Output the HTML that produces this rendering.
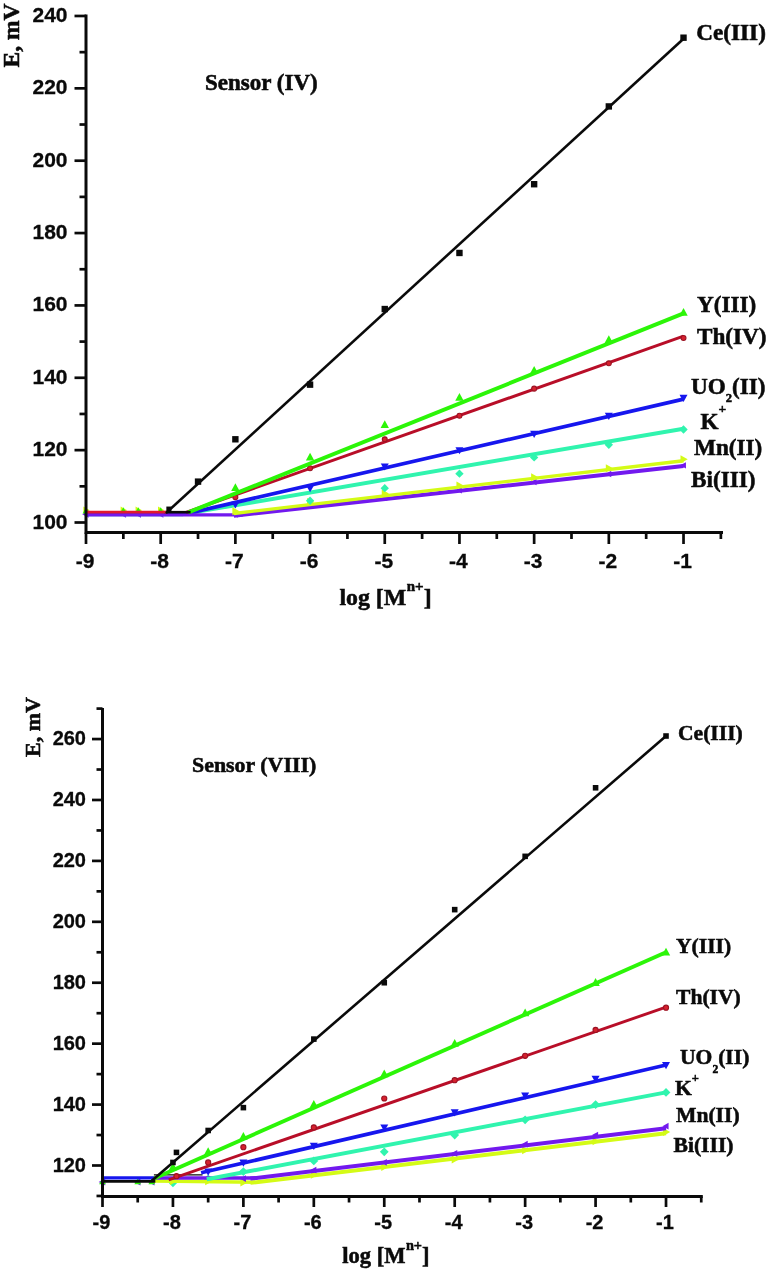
<!DOCTYPE html>
<html><head><meta charset="utf-8"><title>Sensor response</title>
<style>
html,body{margin:0;padding:0;background:#fff;}
body{width:768px;height:1271px;overflow:hidden;}
svg{display:block;filter:blur(0.55px);}
.tk{font-family:"Liberation Sans",sans-serif;font-weight:bold;fill:#0a0a0a;stroke:#0a0a0a;stroke-width:0.3px;}
.sf{font-family:"Liberation Serif",serif;font-weight:bold;fill:#0a0a0a;stroke:#0a0a0a;stroke-width:0.55px;}
</style></head><body>
<svg width="768" height="1271" viewBox="0 0 768 1271">
<rect width="768" height="1271" fill="#ffffff"/>
<g id="top">
<path d="M89.78 510.2 L83.3 506.6 L83.3 513.8Z" fill="#d4fb16"/>
<path d="M127.12 510.2 L120.64 506.6 L120.64 513.8Z" fill="#d4fb16"/>
<path d="M142.06 510.2 L135.58 506.6 L135.58 513.8Z" fill="#d4fb16"/>
<path d="M164.47 510.2 L157.99 506.6 L157.99 513.8Z" fill="#d4fb16"/>
<path d="M82.22 514.18 L88.7 510.58 L88.7 517.78Z" fill="#7219ee"/>
<path d="M119.56 514.18 L126.05 510.58 L126.05 517.78Z" fill="#7219ee"/>
<path d="M134.5 514.18 L140.98 510.58 L140.98 517.78Z" fill="#7219ee"/>
<path d="M156.91 514.18 L163.39 510.58 L163.39 517.78Z" fill="#7219ee"/>
<path d="M86 507.23 L89.36 513.44 L82.64 513.44Z" fill="#2cf508"/>
<path d="M123.34 507.23 L126.7 513.44 L119.98 513.44Z" fill="#2cf508"/>
<path d="M138.28 507.23 L141.64 513.44 L134.92 513.44Z" fill="#2cf508"/>
<path d="M160.69 507.23 L164.05 513.44 L157.33 513.44Z" fill="#2cf508"/>
<polyline points="86,514.18 183.1,514.18 683.52,428.79" fill="none" stroke="#30f4ae" stroke-width="3.9" stroke-linejoin="round"/>
<polyline points="86,514.18 184.59,514.18 683.52,399.13" fill="none" stroke="#1616ee" stroke-width="3.7" stroke-linejoin="round"/>
<path d="M235.38 508.61 L239.38 501.41 L231.38 501.41Z" fill="#1616ee"/>
<path d="M310.07 492.33 L314.07 485.13 L306.07 485.13Z" fill="#1616ee"/>
<path d="M384.76 470.62 L388.76 463.42 L380.76 463.42Z" fill="#1616ee"/>
<path d="M459.45 454.34 L463.45 447.14 L455.45 447.14Z" fill="#1616ee"/>
<path d="M534.14 438.06 L538.14 430.86 L530.14 430.86Z" fill="#1616ee"/>
<path d="M608.83 419.97 L612.83 412.77 L604.83 412.77Z" fill="#1616ee"/>
<path d="M683.52 401.88 L687.52 394.68 L679.52 394.68Z" fill="#1616ee"/>
<polyline points="86,514.9 242.85,514.9" fill="none" stroke="#7219ee" stroke-width="3.3" stroke-linejoin="round"/>
<polyline points="233.89,515.81 683.52,466.06" fill="none" stroke="#7219ee" stroke-width="3.9" stroke-linejoin="round"/>
<path d="M232.02 514.54 L237.78 511.34 L237.78 517.74Z" fill="#7219ee"/>
<path d="M306.71 505.86 L312.47 502.66 L312.47 509.06Z" fill="#7219ee"/>
<path d="M381.4 497.9 L387.16 494.7 L387.16 501.1Z" fill="#7219ee"/>
<path d="M456.09 490.3 L461.85 487.1 L461.85 493.5Z" fill="#7219ee"/>
<path d="M530.78 481.98 L536.54 478.78 L536.54 485.18Z" fill="#7219ee"/>
<path d="M605.47 474.02 L611.23 470.82 L611.23 477.22Z" fill="#7219ee"/>
<path d="M680.16 465.34 L685.92 462.14 L685.92 468.54Z" fill="#7219ee"/>
<polyline points="233.89,513.46 683.52,460.81" fill="none" stroke="#d4fb16" stroke-width="3.4" stroke-linejoin="round"/>
<path d="M239.58 511.28 L232.38 507.28 L232.38 515.28Z" fill="#d4fb16"/>
<path d="M314.27 501.88 L307.07 497.88 L307.07 505.88Z" fill="#d4fb16"/>
<path d="M388.96 493.56 L381.76 489.56 L381.76 497.56Z" fill="#d4fb16"/>
<path d="M463.65 485.6 L456.45 481.6 L456.45 489.6Z" fill="#d4fb16"/>
<path d="M538.34 477.27 L531.14 473.27 L531.14 481.27Z" fill="#d4fb16"/>
<path d="M613.03 468.23 L605.83 464.23 L605.83 472.23Z" fill="#d4fb16"/>
<path d="M687.72 459.19 L680.52 455.19 L680.52 463.19Z" fill="#d4fb16"/>
<path d="M310.07 496.61 L314.25 500.79 L310.07 504.97 L305.89 500.79Z" fill="#30f4ae"/>
<path d="M384.76 483.95 L388.94 488.13 L384.76 492.31 L380.58 488.13Z" fill="#30f4ae"/>
<path d="M459.45 469.48 L463.63 473.66 L459.45 477.84 L455.27 473.66Z" fill="#30f4ae"/>
<path d="M534.14 453.2 L538.32 457.38 L534.14 461.56 L529.96 457.38Z" fill="#30f4ae"/>
<path d="M608.83 440.53 L613.01 444.71 L608.83 448.89 L604.65 444.71Z" fill="#30f4ae"/>
<path d="M683.52 425.34 L687.7 429.52 L683.52 433.7 L679.34 429.52Z" fill="#30f4ae"/>
<polyline points="186.08,512.37 683.52,336.17" fill="none" stroke="#b80e28" stroke-width="3.0" stroke-linejoin="round"/>
<circle cx="235.38" cy="497.17" r="2.46" fill="#d6202e" stroke="#9a1222" stroke-width="1.1"/>
<circle cx="310.07" cy="468.23" r="2.46" fill="#d6202e" stroke="#9a1222" stroke-width="1.1"/>
<circle cx="384.76" cy="439.29" r="2.46" fill="#d6202e" stroke="#9a1222" stroke-width="1.1"/>
<circle cx="459.45" cy="415.77" r="2.46" fill="#d6202e" stroke="#9a1222" stroke-width="1.1"/>
<circle cx="534.14" cy="388.63" r="2.46" fill="#d6202e" stroke="#9a1222" stroke-width="1.1"/>
<circle cx="608.83" cy="363.31" r="2.46" fill="#d6202e" stroke="#9a1222" stroke-width="1.1"/>
<circle cx="683.52" cy="337.98" r="2.46" fill="#d6202e" stroke="#9a1222" stroke-width="1.1"/>
<polyline points="188.33,512.37 683.52,313.38" fill="none" stroke="#2cf508" stroke-width="3.9" stroke-linejoin="round"/>
<path d="M235.38 483.15 L239.58 490.92 L231.18 490.92Z" fill="#2cf508"/>
<path d="M310.07 452.76 L314.27 460.53 L305.87 460.53Z" fill="#2cf508"/>
<path d="M384.76 420.19 L388.96 427.96 L380.56 427.96Z" fill="#2cf508"/>
<path d="M459.45 393.06 L463.65 400.83 L455.25 400.83Z" fill="#2cf508"/>
<path d="M534.14 365.92 L538.34 373.69 L529.94 373.69Z" fill="#2cf508"/>
<path d="M608.83 335.17 L613.03 342.94 L604.63 342.94Z" fill="#2cf508"/>
<path d="M683.52 308.04 L687.72 315.81 L679.32 315.81Z" fill="#2cf508"/>
<polyline points="190.57,512.19 164.42,512.19" fill="none" stroke="#0a0a0a" stroke-width="2.6" stroke-linejoin="round"/>
<polyline points="86,512.19 166.67,512.19" fill="none" stroke="#e2182e" stroke-width="2.8" stroke-linejoin="round"/>
<rect x="166.35" y="506.55" width="5.12" height="5.12" fill="#0a0a0a"/>
<polyline points="165.92,513.09 683.52,38.77" fill="none" stroke="#0a0a0a" stroke-width="2.6" stroke-linejoin="round"/>
<rect x="194.84" y="478.42" width="6.4" height="6.4" fill="#0a0a0a"/>
<rect x="232.18" y="436.09" width="6.4" height="6.4" fill="#0a0a0a"/>
<rect x="306.87" y="381.45" width="6.4" height="6.4" fill="#0a0a0a"/>
<rect x="381.56" y="305.84" width="6.4" height="6.4" fill="#0a0a0a"/>
<rect x="456.25" y="249.76" width="6.4" height="6.4" fill="#0a0a0a"/>
<rect x="530.94" y="181.02" width="6.4" height="6.4" fill="#0a0a0a"/>
<rect x="605.63" y="103.23" width="6.4" height="6.4" fill="#0a0a0a"/>
<rect x="680.32" y="34.49" width="6.4" height="6.4" fill="#0a0a0a"/>
<path d="M86 16 V532.5 H721.5" fill="none" stroke="#0a0a0a" stroke-width="3.0" stroke-linecap="square"/>
<line x1="74.5" x2="86" y1="522.5" y2="522.5" stroke="#0a0a0a" stroke-width="2.7"/>
<text class="tk" font-size="21" x="67.5" y="528.5" text-anchor="end">100</text>
<line x1="79.5" x2="86" y1="486.32" y2="486.32" stroke="#0a0a0a" stroke-width="2.7"/>
<line x1="74.5" x2="86" y1="450.14" y2="450.14" stroke="#0a0a0a" stroke-width="2.7"/>
<text class="tk" font-size="21" x="67.5" y="456.14" text-anchor="end">120</text>
<line x1="79.5" x2="86" y1="413.96" y2="413.96" stroke="#0a0a0a" stroke-width="2.7"/>
<line x1="74.5" x2="86" y1="377.78" y2="377.78" stroke="#0a0a0a" stroke-width="2.7"/>
<text class="tk" font-size="21" x="67.5" y="383.78" text-anchor="end">140</text>
<line x1="79.5" x2="86" y1="341.6" y2="341.6" stroke="#0a0a0a" stroke-width="2.7"/>
<line x1="74.5" x2="86" y1="305.42" y2="305.42" stroke="#0a0a0a" stroke-width="2.7"/>
<text class="tk" font-size="21" x="67.5" y="311.42" text-anchor="end">160</text>
<line x1="79.5" x2="86" y1="269.24" y2="269.24" stroke="#0a0a0a" stroke-width="2.7"/>
<line x1="74.5" x2="86" y1="233.06" y2="233.06" stroke="#0a0a0a" stroke-width="2.7"/>
<text class="tk" font-size="21" x="67.5" y="239.06" text-anchor="end">180</text>
<line x1="79.5" x2="86" y1="196.88" y2="196.88" stroke="#0a0a0a" stroke-width="2.7"/>
<line x1="74.5" x2="86" y1="160.7" y2="160.7" stroke="#0a0a0a" stroke-width="2.7"/>
<text class="tk" font-size="21" x="67.5" y="166.7" text-anchor="end">200</text>
<line x1="79.5" x2="86" y1="124.52" y2="124.52" stroke="#0a0a0a" stroke-width="2.7"/>
<line x1="74.5" x2="86" y1="88.34" y2="88.34" stroke="#0a0a0a" stroke-width="2.7"/>
<text class="tk" font-size="21" x="67.5" y="94.34" text-anchor="end">220</text>
<line x1="79.5" x2="86" y1="52.16" y2="52.16" stroke="#0a0a0a" stroke-width="2.7"/>
<line x1="74.5" x2="86" y1="15.98" y2="15.98" stroke="#0a0a0a" stroke-width="2.7"/>
<text class="tk" font-size="21" x="67.5" y="21.98" text-anchor="end">240</text>
<line x1="86" x2="86" y1="532.5" y2="544" stroke="#0a0a0a" stroke-width="2.7"/>
<text class="tk" font-size="21" x="85" y="567.6" text-anchor="middle">-9</text>
<line x1="123.34" x2="123.34" y1="532.5" y2="539" stroke="#0a0a0a" stroke-width="2.7"/>
<line x1="160.69" x2="160.69" y1="532.5" y2="544" stroke="#0a0a0a" stroke-width="2.7"/>
<text class="tk" font-size="21" x="159.69" y="567.6" text-anchor="middle">-8</text>
<line x1="198.03" x2="198.03" y1="532.5" y2="539" stroke="#0a0a0a" stroke-width="2.7"/>
<line x1="235.38" x2="235.38" y1="532.5" y2="544" stroke="#0a0a0a" stroke-width="2.7"/>
<text class="tk" font-size="21" x="234.38" y="567.6" text-anchor="middle">-7</text>
<line x1="272.73" x2="272.73" y1="532.5" y2="539" stroke="#0a0a0a" stroke-width="2.7"/>
<line x1="310.07" x2="310.07" y1="532.5" y2="544" stroke="#0a0a0a" stroke-width="2.7"/>
<text class="tk" font-size="21" x="309.07" y="567.6" text-anchor="middle">-6</text>
<line x1="347.41" x2="347.41" y1="532.5" y2="539" stroke="#0a0a0a" stroke-width="2.7"/>
<line x1="384.76" x2="384.76" y1="532.5" y2="544" stroke="#0a0a0a" stroke-width="2.7"/>
<text class="tk" font-size="21" x="383.76" y="567.6" text-anchor="middle">-5</text>
<line x1="422.11" x2="422.11" y1="532.5" y2="539" stroke="#0a0a0a" stroke-width="2.7"/>
<line x1="459.45" x2="459.45" y1="532.5" y2="544" stroke="#0a0a0a" stroke-width="2.7"/>
<text class="tk" font-size="21" x="458.45" y="567.6" text-anchor="middle">-4</text>
<line x1="496.79" x2="496.79" y1="532.5" y2="539" stroke="#0a0a0a" stroke-width="2.7"/>
<line x1="534.14" x2="534.14" y1="532.5" y2="544" stroke="#0a0a0a" stroke-width="2.7"/>
<text class="tk" font-size="21" x="533.14" y="567.6" text-anchor="middle">-3</text>
<line x1="571.49" x2="571.49" y1="532.5" y2="539" stroke="#0a0a0a" stroke-width="2.7"/>
<line x1="608.83" x2="608.83" y1="532.5" y2="544" stroke="#0a0a0a" stroke-width="2.7"/>
<text class="tk" font-size="21" x="607.83" y="567.6" text-anchor="middle">-2</text>
<line x1="646.17" x2="646.17" y1="532.5" y2="539" stroke="#0a0a0a" stroke-width="2.7"/>
<line x1="683.52" x2="683.52" y1="532.5" y2="544" stroke="#0a0a0a" stroke-width="2.7"/>
<text class="tk" font-size="21" x="682.52" y="567.6" text-anchor="middle">-1</text>
<line x1="720.87" x2="720.87" y1="532.5" y2="539" stroke="#0a0a0a" stroke-width="2.7"/>
<text class="sf" x="205" y="90" font-size="23">Sensor (IV)</text>
<text class="sf" x="696.3" y="40.3" font-size="23.2">Ce(III)</text>
<text class="sf" x="697" y="312" font-size="23.2">Y(III)</text>
<text class="sf" x="697" y="343.5" font-size="23.2">Th(IV)</text>
<text class="sf" x="691" y="393.5" font-size="23.2">UO<tspan dx="0" dy="8.8" font-size="12.5">2</tspan><tspan dy="-8.8" font-size="1">&#8203;</tspan>(II)</text>
<text class="sf" x="700.5" y="428.7" font-size="23.2">K<tspan dx="0" dy="-15.5" font-size="13.5">+</tspan><tspan dy="15.5" font-size="1">&#8203;</tspan></text>
<text class="sf" x="694" y="455" font-size="23.2">Mn(II)</text>
<text class="sf" x="691" y="487" font-size="23.2">Bi(III)</text>
<text class="sf" x="339.5" y="604.5" font-size="23.8">log [M<tspan dx="0.5" dy="-13.5" font-size="15">n+</tspan><tspan dy="13.5" font-size="1">&#8203;</tspan>]</text>
<text class="sf" font-size="23.5" transform="translate(19,67.5) rotate(-90)">E, mV</text>
</g>
<g id="bottom">
<path d="M98.72 1181.95 L105.2 1178.35 L105.2 1185.55Z" fill="#7219ee"/>
<path d="M133.94 1181.95 L140.42 1178.35 L140.42 1185.55Z" fill="#7219ee"/>
<path d="M148.03 1181.95 L154.51 1178.35 L154.51 1185.55Z" fill="#7219ee"/>
<path d="M102.5 1177.95 L105.86 1184.16 L99.14 1184.16Z" fill="#2cf508"/>
<path d="M137.72 1177.95 L141.08 1184.16 L134.36 1184.16Z" fill="#2cf508"/>
<path d="M151.81 1177.95 L155.17 1184.16 L148.45 1184.16Z" fill="#2cf508"/>
<path d="M172.94 1178.46 L177.34 1182.86 L172.94 1187.26 L168.54 1182.86Z" fill="#30f4ae"/>
<path d="M208.16 1174.5 L212.56 1178.9 L208.16 1183.3 L203.76 1178.9Z" fill="#30f4ae"/>
<polyline points="153.92,1181.03 257.47,1182.25" fill="none" stroke="#d4fb16" stroke-width="3.4" stroke-linejoin="round"/>
<polyline points="250.42,1182.86 666.02,1133.36" fill="none" stroke="#d4fb16" stroke-width="4.0" stroke-linejoin="round"/>
<path d="M177.14 1181.34 L169.94 1177.34 L169.94 1185.34Z" fill="#d4fb16"/>
<path d="M212.36 1181.34 L205.16 1177.34 L205.16 1185.34Z" fill="#d4fb16"/>
<path d="M247.58 1182.56 L240.38 1178.56 L240.38 1186.56Z" fill="#d4fb16"/>
<path d="M318.02 1174.64 L310.82 1170.64 L310.82 1178.64Z" fill="#d4fb16"/>
<path d="M388.46 1167.02 L381.26 1163.02 L381.26 1171.02Z" fill="#d4fb16"/>
<path d="M458.9 1159.41 L451.7 1155.41 L451.7 1163.41Z" fill="#d4fb16"/>
<path d="M529.34 1150.27 L522.14 1146.27 L522.14 1154.27Z" fill="#d4fb16"/>
<path d="M599.78 1141.13 L592.58 1137.13 L592.58 1145.13Z" fill="#d4fb16"/>
<path d="M670.22 1131.99 L663.02 1127.99 L663.02 1135.99Z" fill="#d4fb16"/>
<polyline points="153.92,1177.99 257.47,1177.99" fill="none" stroke="#7219ee" stroke-width="3.3" stroke-linejoin="round"/>
<polyline points="250.42,1178.6 666.02,1128.34" fill="none" stroke="#7219ee" stroke-width="4.0" stroke-linejoin="round"/>
<path d="M239.81 1178.6 L245.93 1175.2 L245.93 1182Z" fill="#7219ee"/>
<path d="M310.25 1170.07 L316.37 1166.67 L316.37 1173.47Z" fill="#7219ee"/>
<path d="M380.69 1162.45 L386.81 1159.05 L386.81 1165.85Z" fill="#7219ee"/>
<path d="M451.13 1153.32 L457.25 1149.92 L457.25 1156.72Z" fill="#7219ee"/>
<path d="M521.57 1144.18 L527.69 1140.78 L527.69 1147.58Z" fill="#7219ee"/>
<path d="M592.01 1135.04 L598.13 1131.64 L598.13 1138.44Z" fill="#7219ee"/>
<path d="M662.45 1126.21 L668.57 1122.81 L668.57 1129.61Z" fill="#7219ee"/>
<polyline points="206.75,1179.21 666.02,1092.4" fill="none" stroke="#30f4ae" stroke-width="3.9" stroke-linejoin="round"/>
<path d="M243.38 1167.19 L247.78 1171.59 L243.38 1175.99 L238.98 1171.59Z" fill="#30f4ae"/>
<path d="M313.82 1156.53 L318.22 1160.93 L313.82 1165.33 L309.42 1160.93Z" fill="#30f4ae"/>
<path d="M384.26 1147.39 L388.66 1151.79 L384.26 1156.19 L379.86 1151.79Z" fill="#30f4ae"/>
<path d="M454.7 1130.64 L459.1 1135.04 L454.7 1139.44 L450.3 1135.04Z" fill="#30f4ae"/>
<path d="M525.14 1115.41 L529.54 1119.81 L525.14 1124.21 L520.74 1119.81Z" fill="#30f4ae"/>
<path d="M595.58 1100.18 L599.98 1104.58 L595.58 1108.98 L591.18 1104.58Z" fill="#30f4ae"/>
<path d="M666.02 1088 L670.42 1092.4 L666.02 1096.8 L661.62 1092.4Z" fill="#30f4ae"/>
<polyline points="153.92,1174.94 202.52,1174.94" fill="none" stroke="#0a0a0a" stroke-width="1.3" stroke-linejoin="round"/>
<polyline points="201.12,1172.81 666.02,1064.98" fill="none" stroke="#1616ee" stroke-width="3.7" stroke-linejoin="round"/>
<path d="M208.16 1175.79 L212.16 1168.59 L204.16 1168.59Z" fill="#1616ee"/>
<path d="M243.38 1166.65 L247.38 1159.45 L239.38 1159.45Z" fill="#1616ee"/>
<path d="M313.82 1149.9 L317.82 1142.7 L309.82 1142.7Z" fill="#1616ee"/>
<path d="M384.26 1131.62 L388.26 1124.42 L380.26 1124.42Z" fill="#1616ee"/>
<path d="M454.7 1116.39 L458.7 1109.19 L450.7 1109.19Z" fill="#1616ee"/>
<path d="M525.14 1099.64 L529.14 1092.44 L521.14 1092.44Z" fill="#1616ee"/>
<path d="M595.58 1082.89 L599.58 1075.69 L591.58 1075.69Z" fill="#1616ee"/>
<path d="M666.02 1069.18 L670.02 1061.98 L662.02 1061.98Z" fill="#1616ee"/>
<polyline points="168.71,1179.82 666.02,1007.11" fill="none" stroke="#b80e28" stroke-width="2.9" stroke-linejoin="round"/>
<circle cx="176.46" cy="1176.16" r="2.55" fill="#d6202e" stroke="#9a1222" stroke-width="1.1"/>
<circle cx="208.16" cy="1162.45" r="2.55" fill="#d6202e" stroke="#9a1222" stroke-width="1.1"/>
<circle cx="243.38" cy="1147.22" r="2.55" fill="#d6202e" stroke="#9a1222" stroke-width="1.1"/>
<circle cx="313.82" cy="1127.42" r="2.55" fill="#d6202e" stroke="#9a1222" stroke-width="1.1"/>
<circle cx="384.26" cy="1098.49" r="2.55" fill="#d6202e" stroke="#9a1222" stroke-width="1.1"/>
<circle cx="454.7" cy="1080.21" r="2.55" fill="#d6202e" stroke="#9a1222" stroke-width="1.1"/>
<circle cx="525.14" cy="1055.84" r="2.55" fill="#d6202e" stroke="#9a1222" stroke-width="1.1"/>
<circle cx="595.58" cy="1029.95" r="2.55" fill="#d6202e" stroke="#9a1222" stroke-width="1.1"/>
<circle cx="666.02" cy="1007.72" r="2.55" fill="#d6202e" stroke="#9a1222" stroke-width="1.1"/>
<polyline points="151.81,1179.51 666.02,952.28" fill="none" stroke="#2cf508" stroke-width="3.9" stroke-linejoin="round"/>
<path d="M172.94 1162.4 L177.14 1170.17 L168.74 1170.17Z" fill="#2cf508"/>
<path d="M208.16 1147.17 L212.36 1154.94 L203.96 1154.94Z" fill="#2cf508"/>
<path d="M243.38 1131.94 L247.58 1139.71 L239.18 1139.71Z" fill="#2cf508"/>
<path d="M313.82 1099.96 L318.02 1107.73 L309.62 1107.73Z" fill="#2cf508"/>
<path d="M384.26 1069.5 L388.46 1077.27 L380.06 1077.27Z" fill="#2cf508"/>
<path d="M454.7 1039.04 L458.9 1046.81 L450.5 1046.81Z" fill="#2cf508"/>
<path d="M525.14 1008.58 L529.34 1016.35 L520.94 1016.35Z" fill="#2cf508"/>
<path d="M595.58 978.12 L599.78 985.89 L591.38 985.89Z" fill="#2cf508"/>
<path d="M666.02 947.66 L670.22 955.43 L661.82 955.43Z" fill="#2cf508"/>
<polyline points="102.5,1181.34 155.33,1181.34" fill="none" stroke="#0a0a0a" stroke-width="2.8" stroke-linejoin="round"/>
<polyline points="102.5,1177.84 153.92,1177.84" fill="none" stroke="#1616ee" stroke-width="3.2" stroke-linejoin="round"/>
<polyline points="151.81,1180.73 666.02,736.01" fill="none" stroke="#0a0a0a" stroke-width="2.6" stroke-linejoin="round"/>
<rect x="170.16" y="1159.67" width="5.57" height="5.57" fill="#0a0a0a"/>
<rect x="173.68" y="1149.62" width="5.57" height="5.57" fill="#0a0a0a"/>
<rect x="205.38" y="1127.69" width="5.57" height="5.57" fill="#0a0a0a"/>
<rect x="240.6" y="1104.84" width="5.57" height="5.57" fill="#0a0a0a"/>
<rect x="311.04" y="1036.31" width="5.57" height="5.57" fill="#0a0a0a"/>
<rect x="381.48" y="979.96" width="5.57" height="5.57" fill="#0a0a0a"/>
<rect x="451.92" y="906.85" width="5.57" height="5.57" fill="#0a0a0a"/>
<rect x="522.36" y="853.55" width="5.57" height="5.57" fill="#0a0a0a"/>
<rect x="592.8" y="785.01" width="5.57" height="5.57" fill="#0a0a0a"/>
<rect x="663.24" y="733.23" width="5.57" height="5.57" fill="#0a0a0a"/>
<path d="M102.5 709.6 V1196.5 H701.3" fill="none" stroke="#0a0a0a" stroke-width="3.0" stroke-linecap="square"/>
<line x1="96.5" x2="102.5" y1="1195.96" y2="1195.96" stroke="#0a0a0a" stroke-width="2.7"/>
<line x1="92" x2="102.5" y1="1165.5" y2="1165.5" stroke="#0a0a0a" stroke-width="2.7"/>
<text class="tk" font-size="20" x="86" y="1171.7" text-anchor="end">120</text>
<line x1="96.5" x2="102.5" y1="1135.04" y2="1135.04" stroke="#0a0a0a" stroke-width="2.7"/>
<line x1="92" x2="102.5" y1="1104.58" y2="1104.58" stroke="#0a0a0a" stroke-width="2.7"/>
<text class="tk" font-size="20" x="86" y="1110.78" text-anchor="end">140</text>
<line x1="96.5" x2="102.5" y1="1074.12" y2="1074.12" stroke="#0a0a0a" stroke-width="2.7"/>
<line x1="92" x2="102.5" y1="1043.66" y2="1043.66" stroke="#0a0a0a" stroke-width="2.7"/>
<text class="tk" font-size="20" x="86" y="1049.86" text-anchor="end">160</text>
<line x1="96.5" x2="102.5" y1="1013.2" y2="1013.2" stroke="#0a0a0a" stroke-width="2.7"/>
<line x1="92" x2="102.5" y1="982.74" y2="982.74" stroke="#0a0a0a" stroke-width="2.7"/>
<text class="tk" font-size="20" x="86" y="988.94" text-anchor="end">180</text>
<line x1="96.5" x2="102.5" y1="952.28" y2="952.28" stroke="#0a0a0a" stroke-width="2.7"/>
<line x1="92" x2="102.5" y1="921.82" y2="921.82" stroke="#0a0a0a" stroke-width="2.7"/>
<text class="tk" font-size="20" x="86" y="928.02" text-anchor="end">200</text>
<line x1="96.5" x2="102.5" y1="891.36" y2="891.36" stroke="#0a0a0a" stroke-width="2.7"/>
<line x1="92" x2="102.5" y1="860.9" y2="860.9" stroke="#0a0a0a" stroke-width="2.7"/>
<text class="tk" font-size="20" x="86" y="867.1" text-anchor="end">220</text>
<line x1="96.5" x2="102.5" y1="830.44" y2="830.44" stroke="#0a0a0a" stroke-width="2.7"/>
<line x1="92" x2="102.5" y1="799.98" y2="799.98" stroke="#0a0a0a" stroke-width="2.7"/>
<text class="tk" font-size="20" x="86" y="806.18" text-anchor="end">240</text>
<line x1="96.5" x2="102.5" y1="769.52" y2="769.52" stroke="#0a0a0a" stroke-width="2.7"/>
<line x1="92" x2="102.5" y1="739.06" y2="739.06" stroke="#0a0a0a" stroke-width="2.7"/>
<text class="tk" font-size="20" x="86" y="745.26" text-anchor="end">260</text>
<line x1="96.5" x2="102.5" y1="708.6" y2="708.6" stroke="#0a0a0a" stroke-width="2.7"/>
<line x1="102.5" x2="102.5" y1="1196.5" y2="1207" stroke="#0a0a0a" stroke-width="2.7"/>
<text class="tk" font-size="20" x="101.5" y="1228.8" text-anchor="middle">-9</text>
<line x1="137.72" x2="137.72" y1="1196.5" y2="1202.5" stroke="#0a0a0a" stroke-width="2.7"/>
<line x1="172.94" x2="172.94" y1="1196.5" y2="1207" stroke="#0a0a0a" stroke-width="2.7"/>
<text class="tk" font-size="20" x="171.94" y="1228.8" text-anchor="middle">-8</text>
<line x1="208.16" x2="208.16" y1="1196.5" y2="1202.5" stroke="#0a0a0a" stroke-width="2.7"/>
<line x1="243.38" x2="243.38" y1="1196.5" y2="1207" stroke="#0a0a0a" stroke-width="2.7"/>
<text class="tk" font-size="20" x="242.38" y="1228.8" text-anchor="middle">-7</text>
<line x1="278.6" x2="278.6" y1="1196.5" y2="1202.5" stroke="#0a0a0a" stroke-width="2.7"/>
<line x1="313.82" x2="313.82" y1="1196.5" y2="1207" stroke="#0a0a0a" stroke-width="2.7"/>
<text class="tk" font-size="20" x="312.82" y="1228.8" text-anchor="middle">-6</text>
<line x1="349.04" x2="349.04" y1="1196.5" y2="1202.5" stroke="#0a0a0a" stroke-width="2.7"/>
<line x1="384.26" x2="384.26" y1="1196.5" y2="1207" stroke="#0a0a0a" stroke-width="2.7"/>
<text class="tk" font-size="20" x="383.26" y="1228.8" text-anchor="middle">-5</text>
<line x1="419.48" x2="419.48" y1="1196.5" y2="1202.5" stroke="#0a0a0a" stroke-width="2.7"/>
<line x1="454.7" x2="454.7" y1="1196.5" y2="1207" stroke="#0a0a0a" stroke-width="2.7"/>
<text class="tk" font-size="20" x="453.7" y="1228.8" text-anchor="middle">-4</text>
<line x1="489.92" x2="489.92" y1="1196.5" y2="1202.5" stroke="#0a0a0a" stroke-width="2.7"/>
<line x1="525.14" x2="525.14" y1="1196.5" y2="1207" stroke="#0a0a0a" stroke-width="2.7"/>
<text class="tk" font-size="20" x="524.14" y="1228.8" text-anchor="middle">-3</text>
<line x1="560.36" x2="560.36" y1="1196.5" y2="1202.5" stroke="#0a0a0a" stroke-width="2.7"/>
<line x1="595.58" x2="595.58" y1="1196.5" y2="1207" stroke="#0a0a0a" stroke-width="2.7"/>
<text class="tk" font-size="20" x="594.58" y="1228.8" text-anchor="middle">-2</text>
<line x1="630.8" x2="630.8" y1="1196.5" y2="1202.5" stroke="#0a0a0a" stroke-width="2.7"/>
<line x1="666.02" x2="666.02" y1="1196.5" y2="1207" stroke="#0a0a0a" stroke-width="2.7"/>
<text class="tk" font-size="20" x="665.02" y="1228.8" text-anchor="middle">-1</text>
<line x1="701.24" x2="701.24" y1="1196.5" y2="1202.5" stroke="#0a0a0a" stroke-width="2.7"/>
<text class="sf" x="192" y="771.8" font-size="21.9">Sensor (VIII)</text>
<text class="sf" x="678" y="740" font-size="21.6">Ce(III)</text>
<text class="sf" x="676" y="952.7" font-size="21.6">Y(III)</text>
<text class="sf" x="676" y="1004" font-size="21.6">Th(IV)</text>
<text class="sf" x="680" y="1063.7" font-size="21.6">UO<tspan dx="0" dy="9.5" font-size="11.5">2</tspan><tspan dy="-9.5" font-size="1">&#8203;</tspan>(II)</text>
<text class="sf" x="675" y="1094.7" font-size="21.6">K<tspan dx="0" dy="-12.5" font-size="12.5">+</tspan><tspan dy="12.5" font-size="1">&#8203;</tspan></text>
<text class="sf" x="676" y="1121.8" font-size="21.6">Mn(II)</text>
<text class="sf" x="673.5" y="1151.7" font-size="21.6">Bi(III)</text>
<text class="sf" x="342.3" y="1263" font-size="22.5">log [M<tspan dx="0.5" dy="-13" font-size="14.3">n+</tspan><tspan dy="13" font-size="1">&#8203;</tspan>]</text>
<text class="sf" font-size="22" transform="translate(40,757) rotate(-90)">E, mV</text>
</g>
</svg>
</body></html>
